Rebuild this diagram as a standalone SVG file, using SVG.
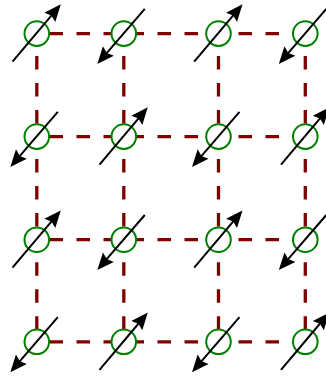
<svg xmlns="http://www.w3.org/2000/svg" xmlns:xlink="http://www.w3.org/1999/xlink" width="326" height="376" viewBox="0 0 326 376">
<style>
.h{stroke:#800000;stroke-width:3.3;fill:none;stroke-dasharray:13.5 13.5;stroke-dashoffset:14.3}
.v{stroke:#800000;stroke-width:3.3;fill:none;stroke-dasharray:13.5 13.5;stroke-dashoffset:4.5}
.site{fill:#ffffff;stroke:#008000;stroke-width:2}
.arr{stroke:#000000;stroke-width:2;fill:none;marker-end:url(#head)}
</style>
<defs>
<marker id="head" markerUnits="userSpaceOnUse" orient="auto" markerWidth="20" markerHeight="20" refX="0" refY="0" overflow="visible">
<path d="M13,0 L-4,-7.2 L-1.5,0 L-4,7.2 Z" fill="#000000"/>
</marker>
<g id="up"><circle class="site" r="12.3"/><line class="arr" x1="-24.3" y1="28" x2="15.6" y2="-19.3"/></g>
<g id="down"><circle class="site" r="12.3"/><line class="arr" x1="21" y1="-24.7" x2="-18" y2="20.5"/></g>
</defs>
<rect width="326" height="376" fill="#ffffff"/>
<g id="connectors">
<line class="h" x1="36.8" y1="33.6" x2="305.3" y2="33.6"/>
<line class="h" x1="36.8" y1="136.6" x2="305.3" y2="136.6"/>
<line class="h" x1="36.8" y1="239.7" x2="305.3" y2="239.7"/>
<line class="h" x1="36.8" y1="341.8" x2="305.3" y2="341.8"/>
<line class="v" x1="36.8" y1="33.6" x2="36.8" y2="136.6"/>
<line class="v" x1="36.8" y1="136.6" x2="36.8" y2="239.7"/>
<line class="v" x1="36.8" y1="239.7" x2="36.8" y2="341.8"/>
<line class="v" x1="123.8" y1="33.6" x2="123.8" y2="136.6"/>
<line class="v" x1="123.8" y1="136.6" x2="123.8" y2="239.7"/>
<line class="v" x1="123.8" y1="239.7" x2="123.8" y2="341.8"/>
<line class="v" x1="218.5" y1="33.6" x2="218.5" y2="136.6"/>
<line class="v" x1="218.5" y1="136.6" x2="218.5" y2="239.7"/>
<line class="v" x1="218.5" y1="239.7" x2="218.5" y2="341.8"/>
<line class="v" x1="305.3" y1="33.6" x2="305.3" y2="136.6"/>
<line class="v" x1="305.3" y1="136.6" x2="305.3" y2="239.7"/>
<line class="v" x1="305.3" y1="239.7" x2="305.3" y2="341.8"/>
</g>
<g id="s00"><use xlink:href="#up" x="36.8" y="33.6"/></g>
<g id="s01"><use xlink:href="#down" x="123.8" y="33.6"/></g>
<g id="s02"><use xlink:href="#up" x="218.5" y="33.6"/></g>
<g id="s03"><use xlink:href="#down" x="305.3" y="33.6"/></g>
<g id="s10"><use xlink:href="#down" x="36.8" y="136.6"/></g>
<g id="s11"><use xlink:href="#up" x="123.8" y="136.6"/></g>
<g id="s12"><use xlink:href="#down" x="218.5" y="136.6"/></g>
<g id="s13"><use xlink:href="#up" x="305.3" y="136.6"/></g>
<g id="s20"><use xlink:href="#up" x="36.8" y="239.7"/></g>
<g id="s21"><use xlink:href="#down" x="123.8" y="239.7"/></g>
<g id="s22"><use xlink:href="#up" x="218.5" y="239.7"/></g>
<g id="s23"><use xlink:href="#down" x="305.3" y="239.7"/></g>
<g id="s30"><use xlink:href="#down" x="36.8" y="341.8"/></g>
<g id="s31"><use xlink:href="#up" x="123.8" y="341.8"/></g>
<g id="s32"><use xlink:href="#down" x="218.5" y="341.8"/></g>
<g id="s33"><use xlink:href="#up" x="305.3" y="341.8"/></g>
</svg>
